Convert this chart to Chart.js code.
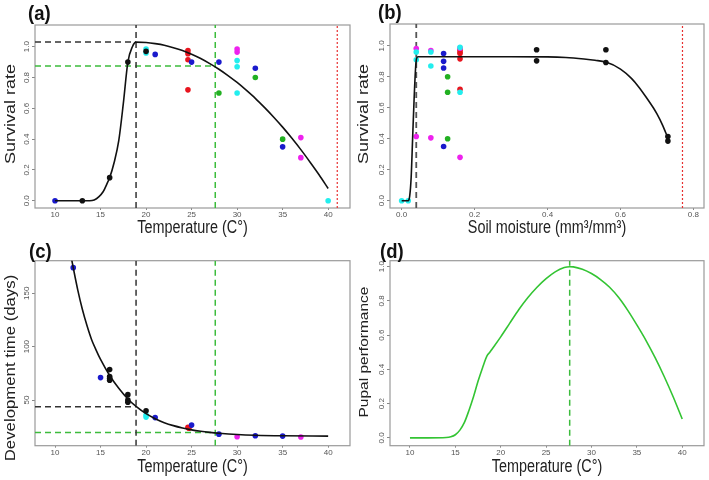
<!DOCTYPE html>
<html>
<head>
<meta charset="utf-8">
<script src="https://cdn.jsdelivr.net/npm/chart.js@4.4.0/dist/chart.umd.min.js"></script>
<style>
  body { margin: 0; background: #fff; width: 709px; height: 480px; position: relative; overflow: hidden; }
  canvas { position: absolute; }
</style>
</head>
<body>
<canvas id="chart-a" width="355" height="240" style="left:0;top:0"></canvas>
<canvas id="chart-b" width="354" height="240" style="left:355px;top:0"></canvas>
<canvas id="chart-c" width="355" height="240" style="left:0;top:240px"></canvas>
<canvas id="chart-d" width="354" height="240" style="left:355px;top:240px"></canvas>
<script>
// ---- data ----
const tempTicks = [10, 15, 20, 25, 30, 35, 40];
const moistTicks = [0, 0.2, 0.4, 0.6, 0.8];
const rateTicks = [0, 0.2, 0.4, 0.6, 0.8, 1.0];
const daysTicks = [50, 100, 150];

const tOpt = 18.9;      // black dashed threshold
const tPupal = 27.6;    // green dashed optimum
const tMax = 41;        // red dotted limit
const mOpt = 0.04;
const mMax = 0.77;
const aBlackLevel = 1.03;
const aGreenLevel = 0.875;
const cBlackLevel = 43.8;
const cGreenLevel = 19.5;

// (a) survival vs temperature
const aCurveX = [10, 13.8, 14.3, 14.8, 15.3, 15.7, 16, 16.5, 17, 17.5, 18, 18.5, 18.9, 20, 21, 22, 23, 24, 25, 26, 27, 28, 29, 30, 31, 32, 33, 34, 35, 36, 37, 38, 39, 40];
const aCurveY = [0, 0, 0.005, 0.025, 0.06, 0.11, 0.15, 0.25, 0.39, 0.63, 0.9, 1.0, 1.03, 1.027, 1.02, 1.01, 0.994, 0.975, 0.951, 0.923, 0.89, 0.854, 0.813, 0.768, 0.718, 0.665, 0.606, 0.544, 0.478, 0.407, 0.332, 0.252, 0.169, 0.08];
const aBlueX = [10, 21, 25, 28, 32, 35];
const aBlueY = [0, 0.95, 0.9, 0.9, 0.86, 0.35];
const aBlackX = [13, 16, 18, 20];
const aBlackY = [0, 0.15, 0.9, 0.97];
const aCyanX = [20, 20, 30, 30, 30, 40];
const aCyanY = [0.985, 0.96, 0.91, 0.87, 0.70, 0];
const aRedX = [24.6, 24.6, 24.6, 24.6];
const aRedY = [0.975, 0.955, 0.915, 0.72];
const aGreenX = [28, 32, 35];
const aGreenY = [0.70, 0.80, 0.40];
const aMagentaX = [30, 30, 37, 37];
const aMagentaY = [0.985, 0.965, 0.41, 0.28];

// (b) survival vs soil moisture
const bCurveX = [0, 0.018, 0.022, 0.026, 0.03, 0.034, 0.038, 0.041, 0.045, 0.1, 0.2, 0.3, 0.4, 0.45, 0.5, 0.53, 0.56, 0.6, 0.63, 0.65, 0.67, 0.69, 0.7, 0.715, 0.73];
const bCurveY = [0, 0, 0.03, 0.15, 0.4, 0.65, 0.85, 0.92, 0.93, 0.93, 0.93, 0.93, 0.929, 0.925, 0.915, 0.907, 0.895, 0.85, 0.79, 0.735, 0.67, 0.6, 0.56, 0.49, 0.405];
const bBlackX = [0.37, 0.37, 0.56, 0.56, 0.73, 0.73];
const bBlackY = [0.975, 0.903, 0.975, 0.892, 0.415, 0.385];
const bCyanX = [0, 0.018, 0.04, 0.04, 0.08, 0.08, 0.16, 0.16];
const bCyanY = [0, 0, 0.96, 0.91, 0.96, 0.87, 0.99, 0.70];
const bMagentaX = [0.04, 0.04, 0.08, 0.08, 0.16, 0.16];
const bMagentaY = [0.983, 0.415, 0.97, 0.406, 0.985, 0.28];
const bBlueX = [0.115, 0.115, 0.115, 0.115];
const bBlueY = [0.95, 0.90, 0.857, 0.35];
const bGreenX = [0.126, 0.126, 0.126];
const bGreenY = [0.80, 0.70, 0.40];
const bRedX = [0.16, 0.16, 0.16, 0.16, 0.16];
const bRedY = [0.975, 0.96, 0.95, 0.916, 0.72];

// (c) development time vs temperature
const cCurveX = [11.5, 12, 12.5, 13, 13.5, 14, 14.5, 15, 16, 17, 18, 18.9, 20, 21, 22, 23, 24, 25, 26, 27, 28, 30, 32, 35, 40];
const cCurveY = [196, 174, 153, 135, 120, 107, 97, 88, 73, 61, 51, 44, 37.2, 32.5, 28.8, 26, 23.8, 22, 20.7, 19.7, 18.9, 17.7, 17, 16.5, 16.2];
const cBlueX = [12, 15, 21, 25, 28, 32, 35];
const cBlueY = [174, 71, 33.5, 26.5, 18, 16.5, 16.2];
const cBlackX = [16, 16, 16, 16, 18, 18, 18, 20];
const cBlackY = [78.5, 72, 70.5, 68.5, 55, 50, 48, 40];
const cCyanX = [20, 20];
const cCyanY = [36, 34];
const cRedX = [24.6, 24.7];
const cRedY = [24.5, 23.5];
const cMagentaX = [30, 37];
const cMagentaY = [15.6, 15.4];

// (d) pupal performance vs temperature
const dCurveX = [10, 12, 14, 14.5, 15, 15.5, 16, 16.5, 17, 17.5, 18, 18.5, 18.8, 19, 20, 21, 22, 23, 24, 25, 26, 27, 27.6, 28, 29, 30, 31, 32, 33, 34, 35, 36, 37, 38, 39, 40];
const dCurveY = [0, 0, 0.002, 0.006, 0.018, 0.045, 0.09, 0.16, 0.24, 0.33, 0.41, 0.48, 0.5, 0.515, 0.59, 0.67, 0.75, 0.82, 0.88, 0.93, 0.97, 0.995, 1.0, 0.999, 0.985, 0.96, 0.925, 0.88, 0.82, 0.745, 0.66, 0.57, 0.47, 0.36, 0.24, 0.11];

// axis limits
const tempMin = 7.8, tempMax = 42.4;
const moistMin = -0.032, moistMax = 0.829;
const rateMin = -0.047, rateMax = 1.141;
const daysMin = 7.2, daysMax = 180.5;
const perfMin = -0.046, perfMax = 1.035;

// ---- styling ----
const BLUE = "#1a1acc", RED = "#e8141e", CYAN = "#22eeee", MAGENTA = "#ee22ee", GREEN = "#22b022", BLACK = "#111";
const FONT = "'Liberation Sans', Arial, sans-serif";

function pts(xs, ys) {
  return xs.map((x, i) => ({ x: x, y: ys[i] }));
}

function dots(xs, ys, color) {
  return { data: pts(xs, ys), backgroundColor: color, borderWidth: 0, pointRadius: 2.8, showLine: false, order: 2 };
}

function curve(xs, ys, color) {
  return { data: pts(xs, ys), borderColor: color, borderWidth: 1.6, pointRadius: 0, showLine: true,
           cubicInterpolationMode: "monotone", order: 1 };
}

function refLine(xs, ys, color, dash, width) {
  return { data: pts(xs, ys), borderColor: color, borderWidth: width || 1.5, borderDash: dash,
           pointRadius: 0, showLine: true, order: 3 };
}

function drawText(ctx, txt, x, y, font, color, align, rotate, sx) {
  ctx.save();
  ctx.translate(x, y);
  ctx.scale(sx, 1);
  if (rotate) ctx.rotate(-Math.PI / 2);
  ctx.font = font;
  ctx.fillStyle = color;
  ctx.textAlign = align;
  ctx.textBaseline = "middle";
  ctx.fillText(txt, 0, 0);
  ctx.restore();
}

const framePlugin = {
  id: "frame",
  beforeDatasetsDraw(chart) {
    const { ctx, chartArea: a } = chart;
    ctx.save();
    ctx.strokeStyle = "#9a9a9a";
    ctx.lineWidth = 1.2;
    ctx.strokeRect(a.left, a.top, a.right - a.left, a.bottom - a.top);
    ctx.restore();
  },
  afterDraw(chart, args, opts) {
    const { ctx, chartArea: a } = chart;
    const ys = chart.scales.y;
    ys.ticks.forEach(t => {
      const py = ys.getPixelForValue(t.value);
      ctx.save();
      ctx.translate(a.left - 4, py);
      ctx.rotate(-Math.PI / 2);
      ctx.font = "8px " + FONT;
      ctx.fillStyle = "#555";
      ctx.textAlign = "center";
      ctx.textBaseline = "bottom";
      ctx.fillText(t.label, 0, 0);
      ctx.restore();
    });
    drawText(ctx, opts.label, opts.labelX, opts.labelY, "bold 21px " + FONT, "#111", "left", false, 0.88);
    drawText(ctx, opts.xTitle, (a.left + a.right) / 2, opts.xTitleY, "18px " + FONT, "#222", "center", false, 0.8);
    drawText(ctx, opts.yTitle, opts.yTitleX, opts.yTitleY, opts.yTitleSize + "px " + FONT, "#222", "center", true, 0.85);
  }
};

function makePanel(id, p) {
  const canvas = document.getElementById(id);
  return new Chart(canvas.getContext("2d"), {
    type: "scatter",
    data: { datasets: p.datasets },
    options: {
      responsive: false,
      animation: false,
      devicePixelRatio: 1,
      layout: { padding: { top: p.top, right: canvas.width - p.right, left: 0, bottom: 0 } },
      plugins: { legend: { display: false }, tooltip: { enabled: false }, frame: p.text },
      scales: {
        x: {
          type: "linear", min: p.xMin, max: p.xMax,
          afterBuildTicks: s => { s.ticks = p.xTicks.map(v => ({ value: v })); },
          afterFit: s => { s.height = canvas.height - p.bottom; },
          ticks: { color: "#555", font: { size: 8, family: FONT }, padding: 0, maxRotation: 0,
                   callback: p.xFmt },
          grid: { drawOnChartArea: false, drawTicks: true, tickLength: 2, color: "#888" },
          border: { display: false }
        },
        y: {
          type: "linear", min: p.yMin, max: p.yMax,
          afterBuildTicks: s => { s.ticks = p.yTicks.map(v => ({ value: v })); },
          afterFit: s => { s.width = 35; },
          ticks: { color: "rgba(0,0,0,0)", font: { size: 8, family: FONT }, callback: p.yFmt },
          grid: { drawOnChartArea: false, drawTicks: true, tickLength: 3, color: "#888" },
          border: { display: false }
        }
      }
    },
    plugins: [framePlugin]
  });
}

const fmt1 = v => v.toFixed(1);
const fmt0 = v => String(v);

makePanel("chart-a", {
  top: 25, right: 350, bottom: 208,
  xMin: tempMin, xMax: tempMax, xTicks: tempTicks, xFmt: fmt0,
  yMin: rateMin, yMax: rateMax, yTicks: rateTicks, yFmt: fmt1,
  text: { label: "(a)", labelX: 28, labelY: 14, xTitle: "Temperature (C°)", xTitleY: 228,
          yTitle: "Survival rate", yTitleX: 11, yTitleY: 114, yTitleSize: 18 },
  datasets: [
    curve(aCurveX, aCurveY, BLACK),
    dots(aBlackX, aBlackY, BLACK),
    dots(aCyanX, aCyanY, CYAN),
    dots(aBlueX, aBlueY, BLUE),
    dots(aRedX, aRedY, RED),
    dots(aGreenX, aGreenY, GREEN),
    dots(aMagentaX, aMagentaY, MAGENTA),
    refLine([tOpt, tOpt], [rateMin, rateMax], "#333", [6, 4]),
    refLine([tPupal, tPupal], [rateMin, rateMax], "#3cbc3c", [6, 4]),
    refLine([tempMin, tOpt], [aBlackLevel, aBlackLevel], "#333", [6, 4]),
    refLine([tempMin, tPupal], [aGreenLevel, aGreenLevel], "#3cbc3c", [6, 4]),
    refLine([tMax, tMax], [rateMin, rateMax], "#e83030", [2, 2], 1.2)
  ]
});

makePanel("chart-b", {
  top: 24, right: 349, bottom: 208,
  xMin: moistMin, xMax: moistMax, xTicks: moistTicks, xFmt: fmt1,
  yMin: rateMin, yMax: rateMax, yTicks: rateTicks, yFmt: fmt1,
  text: { label: "(b)", labelX: 23, labelY: 13, xTitle: "Soil moisture (mm³/mm³)", xTitleY: 228,
          yTitle: "Survival rate", yTitleX: 9, yTitleY: 114, yTitleSize: 18 },
  datasets: [
    curve(bCurveX, bCurveY, BLACK),
    dots(bBlackX, bBlackY, BLACK),
    dots(bCyanX, bCyanY, CYAN),
    dots(bMagentaX, bMagentaY, MAGENTA),
    dots(bBlueX, bBlueY, BLUE),
    dots(bGreenX, bGreenY, GREEN),
    dots(bRedX, bRedY, RED),
    refLine([mOpt, mOpt], [rateMin, rateMax], "#555", [6, 4], 1.8),
    refLine([mMax, mMax], [rateMin, rateMax], "#e83030", [2, 2], 1.2)
  ]
});

makePanel("chart-c", {
  top: 20.7, right: 350, bottom: 205.7,
  xMin: tempMin, xMax: tempMax, xTicks: tempTicks, xFmt: fmt0,
  yMin: daysMin, yMax: daysMax, yTicks: daysTicks, yFmt: fmt0,
  text: { label: "(c)", labelX: 29, labelY: 12, xTitle: "Temperature (C°)", xTitleY: 227,
          yTitle: "Development time (days)", yTitleX: 11, yTitleY: 128, yTitleSize: 16.8 },
  datasets: [
    curve(cCurveX, cCurveY, BLACK),
    dots(cBlackX, cBlackY, BLACK),
    dots(cCyanX, cCyanY, CYAN),
    dots(cBlueX, cBlueY, BLUE),
    dots(cRedX, cRedY, RED),
    dots(cMagentaX, cMagentaY, MAGENTA),
    refLine([tOpt, tOpt], [daysMin, daysMax], "#333", [6, 4]),
    refLine([tPupal, tPupal], [daysMin, daysMax], "#3cbc3c", [6, 4]),
    refLine([tempMin, tOpt], [cBlackLevel, cBlackLevel], "#333", [6, 4]),
    refLine([tempMin, tPupal], [cGreenLevel, cGreenLevel], "#3cbc3c", [6, 4])
  ]
});

makePanel("chart-d", {
  top: 20.7, right: 349, bottom: 205.7,
  xMin: tempMin, xMax: tempMax, xTicks: tempTicks, xFmt: fmt0,
  yMin: perfMin, yMax: perfMax, yTicks: rateTicks, yFmt: fmt1,
  text: { label: "(d)", labelX: 25, labelY: 12, xTitle: "Temperature (C°)", xTitleY: 227,
          yTitle: "Pupal performance", yTitleX: 9, yTitleY: 112, yTitleSize: 15.5 },
  datasets: [
    curve(dCurveX, dCurveY, "#33c433"),
    refLine([tPupal, tPupal], [perfMin, perfMax], "#3cbc3c", [6, 4])
  ]
});
</script>
</body>
</html>
